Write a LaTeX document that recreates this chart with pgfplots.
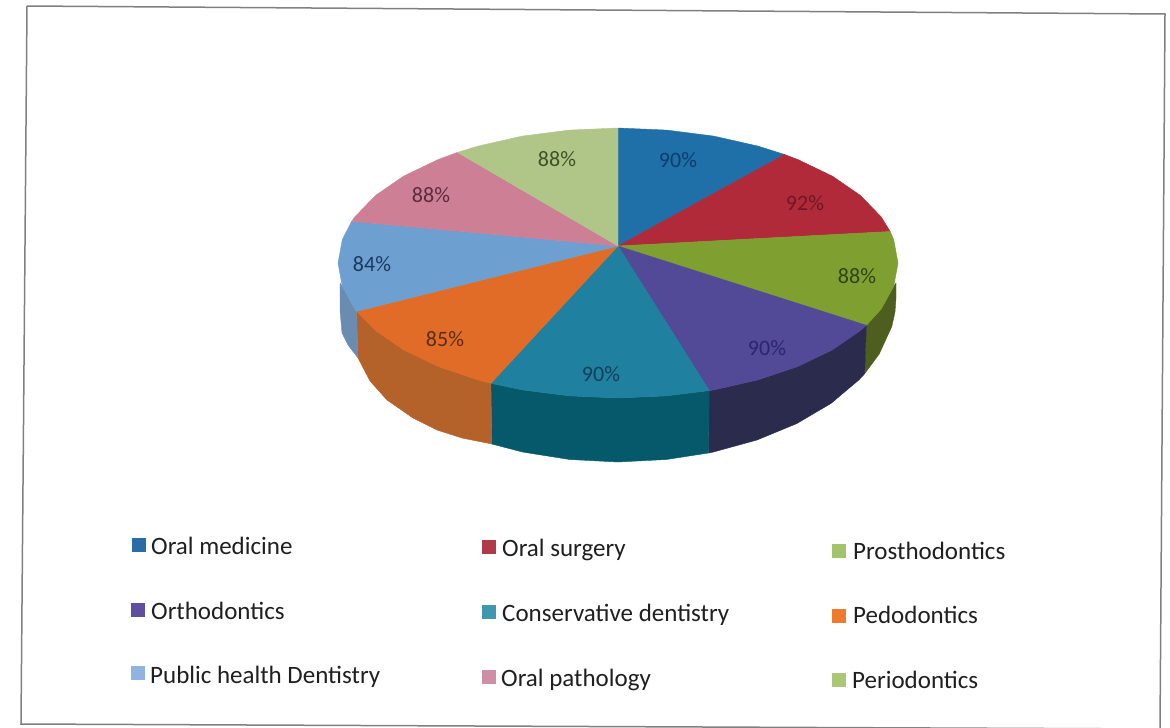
\documentclass[border=0pt]{standalone}
\usepackage{pgfplots}
\pgfplotsset{compat=1.18}
\usepackage{fontspec}
\setmainfont{Carlito}
\definecolor{tblue}{HTML}{1F6FA8}
\definecolor{tred}{HTML}{B02A3A}
\definecolor{tgreen}{HTML}{7F9F30}
\definecolor{tpurple}{HTML}{524A96}
\definecolor{tteal}{HTML}{1F80A0}
\definecolor{torange}{HTML}{E06C28}
\definecolor{tlblue}{HTML}{6D9FD0}
\definecolor{tpink}{HTML}{CD7F96}
\definecolor{tlgreen}{HTML}{B0C688}
\definecolor{sgreen}{HTML}{4D5E1E}
\definecolor{spurple}{HTML}{2B2B4E}
\definecolor{steal}{HTML}{06596A}
\definecolor{sorange}{HTML}{B5622A}
\definecolor{slblue}{HTML}{6A8CB0}
\definecolor{frameg}{HTML}{808080}
\definecolor{lblue}{HTML}{2A6CA8}
\definecolor{lred}{HTML}{B03A48}
\definecolor{lgreen}{HTML}{A3C46A}
\definecolor{lpurple}{HTML}{5F4EA0}
\definecolor{lteal}{HTML}{3F97B0}
\definecolor{lorange}{HTML}{EE7A30}
\definecolor{llblue}{HTML}{8FB4E0}
\definecolor{lpink}{HTML}{CC8FA5}
\definecolor{llgreen}{HTML}{A8C876}
\pgfplotsset{slice/.style={fill=#1,draw=#1,line width=0.4pt,mark=none},
 key/.style={only marks,mark=square*,mark size=6.8pt,color=#1,mark options={solid,fill=#1,draw=#1,line width=0pt}}}
\tikzset{lg/.style={anchor=mid west,inner sep=0pt,font=\fontsize{25}{25}\selectfont,text=black!88},
 dl/.style={font=\fontsize{22}{22}\selectfont,text=#1}}
\begin{document}
\begin{tikzpicture}
\begin{axis}[scale only axis,width=1170pt,height=728pt,xmin=0,xmax=1170,ymin=0,ymax=728,y dir=reverse,axis lines=none,clip=true]
% page background
\addplot[fill=white,draw=none] coordinates {(0,0)(1170,0)(1170,728)(0,728)} -- cycle;
% frame
\addplot[frameg,line width=1.5pt,mark=none] coordinates {(27,6)(1165,14)(1160,729)(21,724)(27,6)};
% side walls
\addplot[slice=sgreen] coordinates {(896,283)(893.7,286.4)(881.1,309.2)(866.4,325.3)(864.6,373.8)(879.2,354)(891.8,326.5)(895,312)(896,298)} -- cycle;
\addplot[slice=spurple] coordinates {(866.4,325.3)(860.5,330.5)(832.5,349.8)(798,366.4)(758,379.9)(713.8,389.9)(709.2,390.6)(708.5,453)(713.1,452.1)(757,440)(796.7,423.6)(831,403.4)(858.8,380)(864.6,373.8)} -- cycle;
\addplot[slice=steal] coordinates {(709.2,390.6)(666.6,395.9)(618,398)(569.4,395.9)(522.2,389.9)(490.9,383.3)(491.8,444)(522.9,452.1)(569.7,459.5)(618,462)(666.3,459.5)(708.5,453)} -- cycle;
\addplot[slice=sorange] coordinates {(490.9,383.3)(478,379.9)(438,366.4)(403.5,349.8)(375.5,330.5)(356.5,311.4)(358,358)(370,381)(387,400)(413,418)(437,430)(462,438)(491.8,444)} -- cycle;
\addplot[slice=slblue] coordinates {(340,283)(342.3,286.4)(354.9,309.2)(356.5,311.4)(358,358)(348,345)(342,333)(340,310)} -- cycle;
% top faces
\addplot[slice=tblue] coordinates {(618,246)(618,128)(666.6,130.1)(713.8,136.1)(758,146.1)(784.6,154.5)} -- cycle;
\addplot[slice=tred] coordinates {(618,246)(784.6,154.5)(798,159.6)(832.5,176.2)(860.5,195.5)(881.1,216.8)(890.2,231.5)} -- cycle;
\addplot[slice=tgreen] coordinates {(618,246)(890.2,231.5)(893.7,239.6)(898,263)(893.7,286.4)(881.1,309.2)(866.4,325.3)} -- cycle;
\addplot[slice=tpurple] coordinates {(618,246)(866.4,325.3)(860.5,330.5)(832.5,349.8)(798,366.4)(758,379.9)(713.8,389.9)(709.2,390.6)} -- cycle;
\addplot[slice=tteal] coordinates {(618,246)(709.2,390.6)(666.6,395.9)(618,398)(569.4,395.9)(522.2,389.9)(490.9,383.3)} -- cycle;
\addplot[slice=torange] coordinates {(618,246)(490.9,383.3)(478,379.9)(438,366.4)(403.5,349.8)(375.5,330.5)(356.5,311.4)} -- cycle;
\addplot[slice=tlblue] coordinates {(618,246)(356.5,311.4)(354.9,309.2)(342.3,286.4)(338,263)(342.3,239.6)(351.7,221.3)} -- cycle;
\addplot[slice=tpink] coordinates {(618,246)(351.7,221.3)(354.9,216.8)(375.5,195.5)(403.5,176.2)(438,159.6)(457.4,152.4)} -- cycle;
\addplot[slice=tlgreen] coordinates {(618,246)(457.4,152.4)(478,146.1)(522.2,136.1)(569.4,130.1)(618,128)} -- cycle;
% data labels
\definecolor{d1}{HTML}{0F3D6B}\definecolor{d2}{HTML}{6B1A25}\definecolor{d3}{HTML}{2F4513}
\definecolor{d4}{HTML}{2A2570}\definecolor{d5}{HTML}{123F5C}\definecolor{d6}{HTML}{5A2D12}
\definecolor{d7}{HTML}{1C3A5E}\definecolor{d8}{HTML}{5C2C3C}\definecolor{d9}{HTML}{3E5226}
\node[dl=d1] at (axis cs:678,160) {90\%};
\node[dl=d2] at (axis cs:805,203) {92\%};
\node[dl=d3] at (axis cs:857,276) {88\%};
\node[dl=d4] at (axis cs:767,348) {90\%};
\node[dl=d5] at (axis cs:601,374) {90\%};
\node[dl=d6] at (axis cs:445,339) {85\%};
\node[dl=d7] at (axis cs:372,264) {84\%};
\node[dl=d8] at (axis cs:431,195) {88\%};
\node[dl=d9] at (axis cs:557,159) {88\%};
% legend keys
\addplot[key=lblue] coordinates {(139,545)};
\addplot[key=lred] coordinates {(489,547)};
\addplot[key=lgreen] coordinates {(839,551)};
\addplot[key=lpurple] coordinates {(138,610)};
\addplot[key=lteal] coordinates {(489,612)};
\addplot[key=lorange] coordinates {(839,616)};
\addplot[key=llblue] coordinates {(138,673)};
\addplot[key=lpink] coordinates {(489,677)};
\addplot[key=llgreen] coordinates {(839,680)};
% legend text
\node[lg] at (axis cs:151,552) {Oral medicine};
\node[lg] at (axis cs:502,554) {Oral surgery};
\node[lg] at (axis cs:853,557) {Prosthodontics};
\node[lg] at (axis cs:151,617) {Orthodontics};
\node[lg] at (axis cs:502,619) {Conservative dentistry};
\node[lg] at (axis cs:853,621) {Pedodontics};
\node[lg] at (axis cs:150,681) {Public health Dentistry};
\node[lg] at (axis cs:501,684) {Oral pathology};
\node[lg] at (axis cs:852,686) {Periodontics};
\end{axis}
\end{tikzpicture}
\end{document}
